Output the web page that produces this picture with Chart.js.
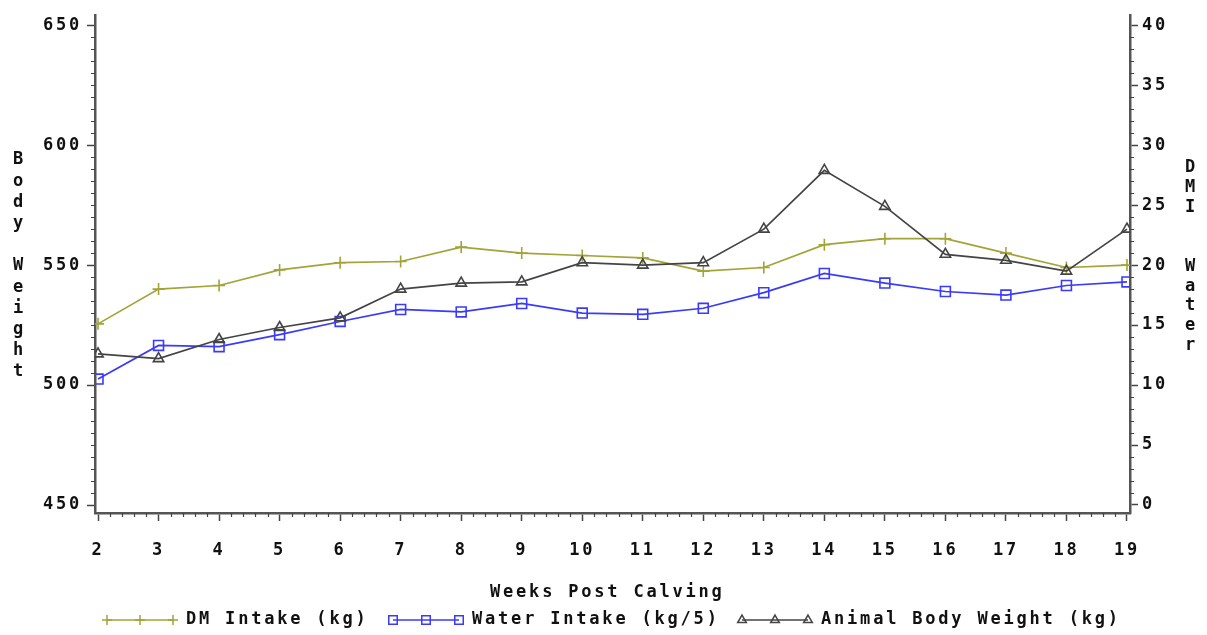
<!DOCTYPE html>
<html><head><meta charset="utf-8">
<script src="https://cdn.jsdelivr.net/npm/chart.js@4"></script>
<style>html,body{margin:0;padding:0;background:#fff;overflow:hidden;}</style>
</head><body>
<canvas id="c" width="1207" height="635" style="width:1207px;height:635px;display:block"></canvas>
<script>
// ---- data ----
const weeks = [2,3,4,5,6,7,8,9,10,11,12,13,14,15,16,17,18,19];
const dmIntake = [15.1,18.0,18.3,19.6,20.2,20.3,21.5,21.0,20.8,20.6,19.5,19.8,21.7,22.2,22.2,21.0,19.8,20.0];
const waterIntake = [10.5,13.3,13.2,14.2,15.3,16.3,16.1,16.8,16.0,15.9,16.4,17.7,19.3,18.5,17.8,17.5,18.3,18.6];
const bodyWeight = [513,511,519,524,528,540,542.5,543,551,550,551,565,589.5,574.5,554.5,552,547.5,565];
const leftTicks = [450,500,550,600,650];
const rightTicks = [0,5,10,15,20,25,30,35,40];
const seriesNames = ['DM Intake (kg)','Water Intake (kg/5)','Animal Body Weight (kg)'];
const xTitle = 'Weeks Post Calving';
const leftTitle = ['B','o','d','y','','W','e','i','g','h','t'];
const rightTitle = ['D','M','I','','','W','a','t','e','r'];

const FONT = 'bold 17px "DejaVu Sans Mono", monospace';
const SPACING = '2.8px';
const TXT = '#111';
const AX = '#555';
const colors = ['#a3a337','#3a3aff','#444444'];
const styles = ['cross','rect','triangle'];
const radii = [6,7,6];

const pts = arr => weeks.map((w,i)=>({x:w,y:arr[i]}));

const minorPlugin = {
  id:'minor',
  beforeDraw(chart){ chart.ctx.letterSpacing = SPACING; },
  afterDraw(chart){
    const ctx = chart.ctx;
    const sx = chart.scales.x, sy = chart.scales.y, s2 = chart.scales.y2;
    const ca = chart.chartArea;
    ctx.save();
    ctx.strokeStyle = '#444'; ctx.lineWidth = 1.2;
    ctx.beginPath();
    for (let w = weeks[0]; w < weeks[weeks.length-1] - 0.01; w += 1) {
      for (let k=1;k<5;k++){ const px = Math.round(sx.getPixelForValue(w + k*0.2))+0.5; ctx.moveTo(px, ca.bottom); ctx.lineTo(px, ca.bottom+4); }
    }
    for (let v = 450; v < 650; v += 50) {
      for (let k=1;k<10;k++){ const py = Math.round(sy.getPixelForValue(v+k*5))+0.5; ctx.moveTo(ca.left, py); ctx.lineTo(ca.left-4, py); }
    }
    for (let v = 0; v < 40; v += 5) {
      for (let k=1;k<5;k++){ const py = Math.round(s2.getPixelForValue(v+k))+0.5; ctx.moveTo(ca.right, py); ctx.lineTo(ca.right+4, py); }
    }
    ctx.stroke();
    // titles
    ctx.font = FONT; ctx.fillStyle = TXT; ctx.textAlign = 'center'; ctx.textBaseline = 'middle';
    ctx.letterSpacing = '0px';
    leftTitle.forEach((ch,i)=>{ if(ch) ctx.fillText(ch, 18, 160 + i*21.2); });
    rightTitle.forEach((ch,i)=>{ if(ch) ctx.fillText(ch, 1190, 168 + i*19.7); });
    ctx.letterSpacing = SPACING;
    ctx.textAlign = 'left';
    ctx.fillText(xTitle, 490, 593);
    // legend
    const items = [{x0:107,x1:173,tx:186},{x0:393,x1:459,tx:472},{x0:742,x1:808,tx:821}];
    items.forEach((it,i)=>{
      const ly = 620;
      ctx.strokeStyle = colors[i]; ctx.lineWidth = 1.5;
      ctx.beginPath(); ctx.moveTo(it.x0, ly); ctx.lineTo(it.x1, ly); ctx.stroke();
      const r = i===1 ? 6 : 5;
      ctx.fillStyle = 'rgba(0,0,0,0)';
      [it.x0,(it.x0+it.x1)/2,it.x1].forEach(px=>{
        Chart.helpers.drawPoint(ctx,{pointStyle:styles[i],rotation:0,radius:r,borderWidth:1.5},px,ly);
      });
      ctx.fillStyle = TXT;
      ctx.fillText(seriesNames[i], it.tx, ly);
    });
    ctx.restore();
  }
};

const mkDs = (i, arr, axis) => ({
  label: seriesNames[i], data: pts(arr), yAxisID: axis,
  borderColor: colors[i], backgroundColor: 'rgba(0,0,0,0)',
  pointBorderColor: colors[i], pointBackgroundColor: 'rgba(0,0,0,0)',
  pointStyle: styles[i], pointRadius: radii[i], pointBorderWidth: 1.6,
  borderWidth: 1.7, tension: 0, fill: false
});

const tickFont = {family:'"DejaVu Sans Mono", monospace', size:17, weight:'bold'};

new Chart(document.getElementById('c'), {
  type:'line',
  data:{ datasets:[ mkDs(2, bodyWeight, 'y'), mkDs(0, dmIntake, 'y2'), mkDs(1, waterIntake, 'y2') ] },
  options:{
    responsive:false, animation:false, devicePixelRatio:1,
    layout:{padding:{top:15,left:0,right:0,bottom:0}},
    plugins:{legend:{display:false}, tooltip:{enabled:false}},
    scales:{
      x:{ type:'linear', position:'bottom', min:1.95, max:19.05,
        afterBuildTicks:s=>{ s.ticks = weeks.map(v=>({value:v})); },
        afterFit:s=>{ s.height = 122; },
        ticks:{ font:tickFont, color:TXT, padding:19, maxRotation:0, autoSkip:false, callback:v=>String(v) },
        grid:{ drawOnChartArea:false, drawTicks:true, tickLength:8, tickColor:'#444', tickWidth:1.5 },
        border:{ color:AX, width:2.5 } },
      y:{ type:'linear', position:'left', min:446.67, max:654.17,
        afterBuildTicks:s=>{ s.ticks = leftTicks.map(v=>({value:v})); },
        afterFit:s=>{ s.width = 95; },
        ticks:{ font:tickFont, color:TXT, padding:5, callback:v=>String(v) },
        grid:{ drawOnChartArea:false, tickLength:8, tickColor:'#444', tickWidth:1.5 },
        border:{ color:AX, width:2.5 } },
      y2:{ type:'linear', position:'right', min:-0.667, max:40.833,
        afterBuildTicks:s=>{ s.ticks = rightTicks.map(v=>({value:v})); },
        afterFit:s=>{ s.width = 77; },
        ticks:{ font:tickFont, color:TXT, padding:4, callback:v=>String(v) },
        grid:{ drawOnChartArea:false, tickLength:8, tickColor:'#444', tickWidth:1.5 },
        border:{ color:AX, width:2.5 } }
    }
  },
  plugins:[minorPlugin]
});
</script>
</body></html>
